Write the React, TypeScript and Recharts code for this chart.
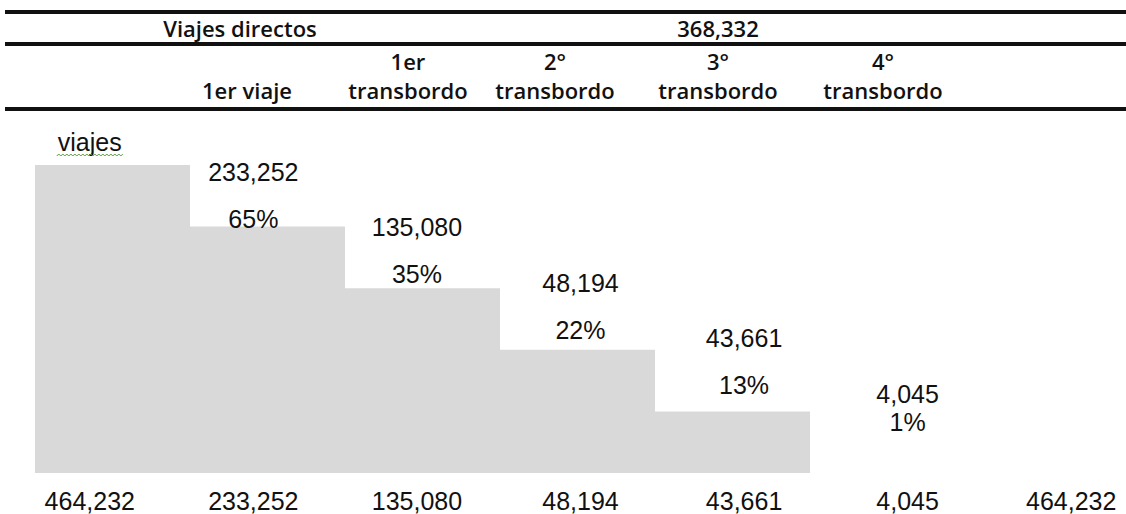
import { Bar, ComposedChart, LabelList, Line, XAxis, YAxis } from "recharts";

// etiquetas de la fila inferior
const etiquetas = ["464,232", "233,252", "135,080", "48,194", "43,661", "4,045", "464,232"];
// altura de cada escalón gris
const escalones = [5, 4, 3, 2, 1, 0, 0];
// textos sobre los escalones
const viajesArriba = [null, "233,252", "135,080", "48,194", "43,661", "4,045", null];
const porcentajes = [null, "65%", "35%", "22%", "13%", "1%", null];

const TITULO_DIRECTOS = "Viajes directos";
const TOTAL_DIRECTOS = "368,332";
const encabezados = [
  ["", "1er viaje"],
  ["1er", "transbordo"],
  ["2°", "transbordo"],
  ["3°", "transbordo"],
  ["4°", "transbordo"],
];
const EJE = "viajes";

const GRIS = "#d9d9d9";
const TINTA = "#111";
const FUENTE = "'Liberation Sans', Arial, sans-serif";
const FUENTE_TABLA = "'Open Sans', sans-serif";

const data = etiquetas.map((etiqueta, i) => ({
  id: i,
  etiqueta,
  escalon: escalones[i],
  arriba: viajesArriba[i],
}));

// posiciones de las columnas del encabezado (px)
const colX = [247, 408, 555, 718, 883];

function EtiquetaEscalon(props: any) {
  const { x, y, index } = props;
  if (index === 0) {
    const w = 66;
    let d = `M ${x - w / 2} ${y - 9}`;
    for (let i = 0; i <= w; i += 2) {
      d += ` L ${x - w / 2 + i} ${y - 9 + (i % 4 === 0 ? 0 : -2)}`;
    }
    return (
      <g>
        <text x={x} y={y - 14} textAnchor="middle" fontSize={25} fontFamily={FUENTE} fill={TINTA}>
          {EJE}
        </text>
        <path d={d} stroke="#5a9e3a" strokeWidth={1} fill="none" />
      </g>
    );
  }
  const valor = viajesArriba[index];
  if (!valor) return null;
  const k = index - 1;
  const yValor = y - (55 + 6 * k);
  const yPct = yValor + (index === 5 ? 28 : 47);
  return (
    <g fontSize={25} fontFamily={FUENTE} fill={TINTA} textAnchor="middle">
      <text x={x} y={yValor} dy="0.36em">
        {valor}
      </text>
      <text x={x} y={yPct} dy="0.36em">
        {porcentajes[index]}
      </text>
    </g>
  );
}

function Encabezado() {
  const linea = (top: number) => (
    <div
      style={{
        position: "absolute",
        left: 5,
        right: 0,
        top,
        height: 4,
        background: TINTA,
      }}
    />
  );
  const texto = (t: string, x: number, y: number, key?: string) => (
    <div
      key={key}
      style={{
        position: "absolute",
        left: x,
        top: y,
        transform: "translate(-50%, -50%)",
        whiteSpace: "nowrap",
        fontFamily: FUENTE_TABLA,
        fontWeight: 600,
        fontSize: 22,
        color: TINTA,
        lineHeight: 1,
      }}
    >
      {t}
    </div>
  );
  return (
    <>
      {linea(10)}
      {linea(42)}
      {linea(107)}
      {texto(TITULO_DIRECTOS, 240, 28)}
      {texto(TOTAL_DIRECTOS, 718, 28)}
      {encabezados.map(([a, b], i) => (
        <div key={i}>
          {a ? texto(a, colX[i], 61) : null}
          {texto(b, colX[i], 90)}
        </div>
      ))}
    </>
  );
}

export default function App() {
  return (
    <div
      style={{
        position: "absolute",
        left: 0,
        top: 0,
        width: 1126,
        height: 514,
        overflow: "hidden",
        background: "#fff",
      }}
    >
      <ComposedChart
        width={1160}
        height={514}
        data={data}
        margin={{ top: 165, right: 0, bottom: 0, left: 0 }}
        barCategoryGap={0}
        barGap={0}
      >
        <XAxis
          xAxisId="cat"
          dataKey="id"
          type="category"
          padding={{ left: 8, right: 7 }}
          axisLine={false}
          tickLine={false}
          tickSize={0}
          tickMargin={19}
          height={41}
          interval={0}
          tickFormatter={(v) => etiquetas[v]}
          tick={{ fontSize: 25, fontFamily: FUENTE, fill: TINTA }}
        />
        <XAxis
          xAxisId="paso"
          dataKey="id"
          type="category"
          hide
          padding={{ left: 35, right: 40 }}
        />
        <YAxis hide domain={[0, 5]} type="number" />
        <Bar
          xAxisId="paso"
          dataKey="escalon"
          fill={GRIS}
          isAnimationActive={false}
        />
        <Line
          xAxisId="cat"
          dataKey="escalon"
          stroke="none"
          dot={false}
          activeDot={false}
          isAnimationActive={false}
        >
          <LabelList dataKey="escalon" content={EtiquetaEscalon} />
        </Line>
      </ComposedChart>
      <Encabezado />
    </div>
  );
}
